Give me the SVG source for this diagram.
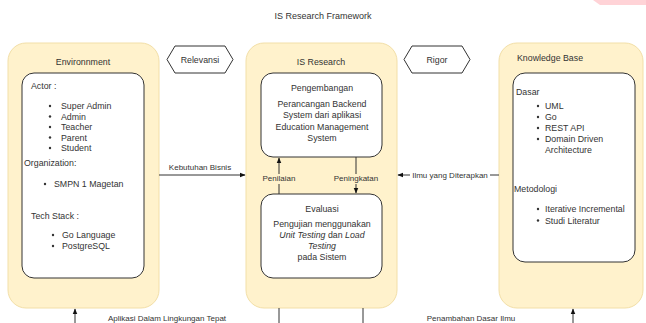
<svg xmlns="http://www.w3.org/2000/svg" width="646" height="323" viewBox="0 0 646 323">
<style>
text{font-family:"Liberation Sans",Arial,sans-serif;font-size:8.8px;fill:#333}
.c{text-anchor:middle}
.outer{fill:#fff2cc;stroke:#f2dfa8;stroke-width:1}
.inner{fill:#fff;stroke:#333;stroke-width:1}
.hex{fill:#fff;stroke:#333;stroke-width:1}
.ln{fill:none;stroke:#333;stroke-width:1}
.lbl{font-size:8px}
</style>
<defs>
<marker id="ah" viewBox="0 0 10 10" refX="9" refY="5" markerWidth="6" markerHeight="6" orient="auto" markerUnits="userSpaceOnUse"><path d="M0,1 L10,5 L0,9 Z" fill="#111"/></marker>
</defs>
<rect width="646" height="323" fill="#fff"/>
<polygon points="593,0 646,0 646,5 600,5" fill="#ffd3d7"/>
<text x="323" y="19" class="c" style="font-size:9px">IS Research Framework</text>

<g id="environment">
<rect class="outer" x="8" y="43" width="151" height="265" rx="18"/>
<text x="83" y="65" class="c">Environnment</text>
<rect class="inner" x="22" y="73" width="122" height="205" rx="12"/>
<text x="31" y="89">Actor :</text>
<g>
<circle cx="50" cy="106" r="1.2" fill="#333"/><text x="61" y="109">Super Admin</text>
<circle cx="50" cy="116.5" r="1.2" fill="#333"/><text x="61" y="119.5">Admin</text>
<circle cx="50" cy="127" r="1.2" fill="#333"/><text x="61" y="130">Teacher</text>
<circle cx="50" cy="137.5" r="1.2" fill="#333"/><text x="61" y="140.5">Parent</text>
<circle cx="50" cy="148" r="1.2" fill="#333"/><text x="61" y="151">Student</text>
</g>
<text x="24" y="166">Organization:</text>
<circle cx="45" cy="184" r="1.2" fill="#333"/><text x="54" y="187">SMPN 1 Magetan</text>
<text x="31" y="219">Tech Stack :</text>
<circle cx="53" cy="235" r="1.2" fill="#333"/><text x="62" y="238">Go Language</text>
<circle cx="53" cy="246" r="1.2" fill="#333"/><text x="62" y="249">PostgreSQL</text>
</g>

<g id="relevansi">
<polygon class="hex" points="175,46 225,46 233,59.5 225,73 175,73 167,59.5"/>
<text x="200" y="62.5" class="c">Relevansi</text>
</g>

<g id="is-research">
<rect class="outer" x="246" y="43" width="151" height="265" rx="18"/>
<text x="321" y="65" class="c">IS Research</text>
</g>

<g id="pengembangan">
<rect class="inner" x="261" y="73" width="121" height="84" rx="12"/>
<text x="322" y="91" class="c">Pengembangan</text>
<text x="322" y="107" class="c">Perancangan Backend</text>
<text x="322" y="118" class="c">System dari aplikasi</text>
<text x="322" y="129.5" class="c">Education Management</text>
<text x="322" y="141" class="c">System</text>
</g>

<g id="evaluasi">
<rect class="inner" x="261" y="194" width="121" height="84" rx="12"/>
<text x="322" y="212" class="c">Evaluasi</text>
<text x="322" y="226.5" class="c">Pengujian menggunakan</text>
<text x="322" y="237.5" class="c"><tspan font-style="italic">Unit Testing</tspan> dan <tspan font-style="italic">Load</tspan></text>
<text x="322" y="248.5" class="c" font-style="italic">Testing</text>
<text x="322" y="259.5" class="c">pada Sistem</text>
</g>

<g id="rigor">
<polygon class="hex" points="412,46 462,46 470,59.5 462,73 412,73 404,59.5"/>
<text x="437" y="62.5" class="c">Rigor</text>
</g>

<g id="knowledge-base">
<rect class="outer" x="499" y="43" width="144" height="265" rx="18"/>
<text x="517" y="61">Knowledge Base</text>
<rect class="inner" x="513" y="73" width="122" height="189" rx="12"/>
<text x="516" y="95">Dasar</text>
<circle cx="538" cy="106" r="1.2" fill="#333"/><text x="545" y="109">UML</text>
<circle cx="538" cy="117" r="1.2" fill="#333"/><text x="545" y="120">Go</text>
<circle cx="538" cy="128" r="1.2" fill="#333"/><text x="545" y="131">REST API</text>
<circle cx="538" cy="139" r="1.2" fill="#333"/><text x="545" y="142">Domain Driven</text>
<text x="545" y="153">Architecture</text>
<text x="514" y="192">Metodologi</text>
<circle cx="538" cy="209" r="1.2" fill="#333"/><text x="545" y="212">Iterative Incremental</text>
<circle cx="538" cy="220.5" r="1.2" fill="#333"/><text x="545" y="223.5">Studi Literatur</text>
</g>

<g id="connectors">
<line class="ln" x1="159" y1="175" x2="245" y2="175" marker-end="url(#ah)"/>
<text x="200" y="170" class="c lbl">Kebutuhan Bisnis</text>

<line class="ln" x1="499" y1="175" x2="398" y2="175" marker-end="url(#ah)"/>
<rect x="410" y="170" width="80" height="10" fill="#fff"/>
<text x="450" y="178" class="c lbl">Ilmu yang Diterapkan</text>

<line class="ln" x1="279" y1="194" x2="279" y2="158" marker-end="url(#ah)"/>
<rect x="262" y="174" width="34" height="10" fill="#fff2cc"/>
<text x="279" y="181" class="c lbl">Penilaian</text>

<line class="ln" x1="356" y1="157" x2="356" y2="193" marker-end="url(#ah)"/>
<rect x="334" y="174" width="44" height="10" fill="#fff2cc"/>
<text x="356" y="181" class="c lbl">Peningkatan</text>

<polyline class="ln" points="279,308 279,330 75,330 75,309" marker-end="url(#ah)"/>
<text x="167" y="321" class="c lbl">Aplikasi Dalam Lingkungan Tepat</text>

<polyline class="ln" points="363,308 363,330 573,330 573,309" marker-end="url(#ah)"/>
<text x="471" y="321" class="c lbl">Penambahan Dasar Ilmu</text>
</g>
</svg>
